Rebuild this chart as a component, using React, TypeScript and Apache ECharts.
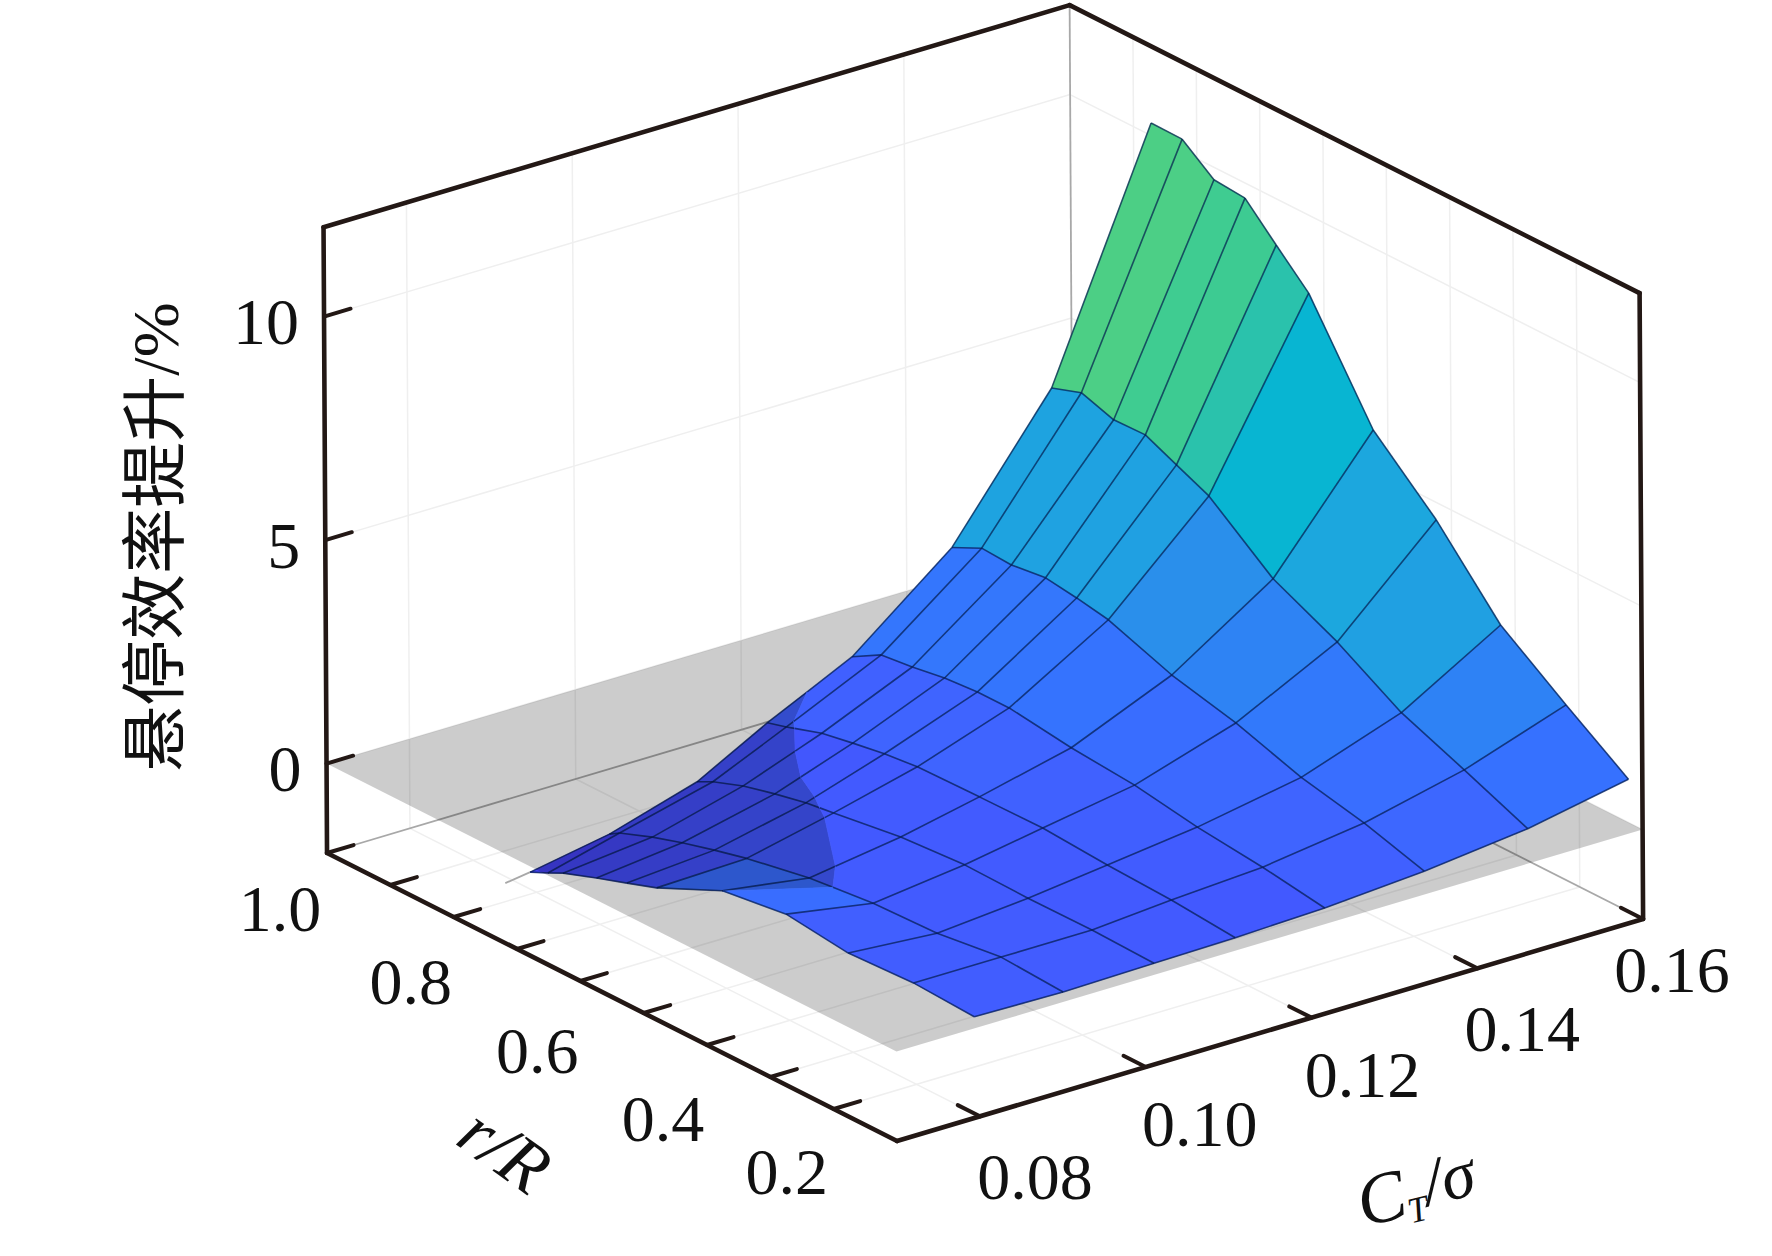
import React, { useEffect, useRef } from "react";
import * as echarts from "echarts";

// ---- tick labels ----
const zTicks = [0, 5, 10];
const rTicks = [0.2, 0.3, 0.4, 0.5, 0.6, 0.7, 0.8, 0.9, 1.0];
const rLabels = [1.0, 0.8, 0.6, 0.4, 0.2];
const ctTicks = [0.08, 0.1, 0.12, 0.14, 0.16];

// ---- surface: one list per CT/sigma row ----
const ctRows = [0.08, 0.0914, 0.1029, 0.1143, 0.1257, 0.1371, 0.1486, 0.16];
const rRows = [
  [0.108, 0.204, 0.307, 0.405, 0.506, 0.61, 0.657, 0.705, 0.758, 0.782, 0.81],
  [0.117, 0.215, 0.316, 0.417, 0.518, 0.617, 0.668, 0.719, 0.766, 0.818, 0.834],
  [0.124, 0.222, 0.323, 0.423, 0.524, 0.63, 0.674, 0.723, 0.773, 0.821, 0.846],
  [0.145, 0.246, 0.347, 0.449, 0.549, 0.647, 0.699, 0.749, 0.798, 0.854, 0.884],
  [0.153, 0.251, 0.354, 0.453, 0.553, 0.651, 0.701, 0.753, 0.804, 0.853, 0.899],
  [0.145, 0.24, 0.339, 0.442, 0.543, 0.643, 0.693, 0.742, 0.796, 0.843, 0.89],
  [0.132, 0.232, 0.331, 0.432, 0.533, 0.634, 0.685, 0.734, 0.784, 0.835, 0.882],
  [0.122, 0.22, 0.323, 0.424, 0.523, 0.624, 0.675, 0.724, 0.773, 0.823, 0.872],
];
const zRows = [
  [0.17, 0.24, 0.17, 0.34, 0.14, -0.54, -0.77, -1.0, -1.27, -1.44, -1.62],
  [0.03, 0.11, -0.08, -0.13, -0.29, -0.56, -0.74, -0.94, -1.15, -1.43, -1.57],
  [-0.01, 0.03, 0.02, 0.05, -0.05, -0.27, -0.36, -0.51, -0.69, -0.94, -1.12],
  [-0.22, -0.1, -0.04, 0.06, 0.04, 0.01, -0.07, -0.19, -0.32, -0.58, -0.7],
  [-0.24, -0.03, 0.13, 0.36, 0.48, 0.67, 0.67, 0.61, 0.49, 0.41, 0.04],
  [0.01, 0.41, 0.72, 1.2, 1.55, 2.07, 2.2, 2.3, 2.2, 2.24, 1.92],
  [0.42, 1.02, 1.59, 2.45, 3.14, 4.27, 4.6, 4.92, 4.9, 5.14, 4.91],
  [0.97, 1.93, 2.98, 4.61, 5.91, 8.25, 8.96, 9.66, 9.72, 10.27, 10.28],
];
// vertices whose depth against the gray plane reads differently from their height
const depthOverrides = [
  [0, 4, -0.31],
  [1, 4, -0.4],
  [2, 6, -0.33],
  [2, 7, -0.4],
  [3, 7, -0.1],
  [3, 8, -0.1],
  [3, 9, -0.36],
  [3, 10, -0.6],
];
const brightCells = [
  [0, 3, 1.5],
  [0, 4, 1.5],
];

// colour scale: value -> rgb
const colorStops: number[][] = [
  [-1.6, 68, 62, 240],
  [0, 66, 90, 255],
  [0.7, 63, 100, 255],
  [2, 54, 114, 255],
  [3, 46, 130, 245],
  [4.3, 42, 143, 235],
  [4.6, 32, 160, 226],
  [6, 28, 168, 222],
  [8.25, 8, 181, 210],
  [9, 44, 195, 170],
  [9.7, 62, 204, 145],
  [10.3, 77, 207, 133],
];

// ---- projection of the box (plot units = page pixels) ----
const CUT = -0.3;
const Z_MIN = -2;
const Z_MAX = 12;
const R_MIN = 0.1;
const R_MAX = 1.0;
const CT_MIN = 0.07;
const CT_MAX = 0.16;
const project = (r: number, ct: number, z: number): number[] => {
  const a = (r - R_MIN) / 0.1;
  const b = (ct - CT_MIN) / 0.01;
  const c = z - Z_MIN;
  return [897 - 63.33 * a + 82.9 * b - 0.25 * c, 1141 - 32 * a - 24.67 * b - 44.7 * c];
};

const depth = zRows.map((row) => row.slice());
depthOverrides.forEach(([i, j, v]) => {
  depth[i][j] = v;
});

type V = { r: number; ct: number; z: number; s: number };
const vert = (i: number, j: number): V => ({ r: rRows[i][j], ct: ctRows[i], z: zRows[i][j], s: depth[i][j] });
const mix = (p: V, q: V, t: number): V => ({
  r: p.r + (q.r - p.r) * t,
  ct: p.ct + (q.ct - p.ct) * t,
  z: p.z + (q.z - p.z) * t,
  s: p.s + (q.s - p.s) * t,
});
const clipPoly = (pts: V[], below: boolean): V[] => {
  const inside = (v: V) => (below ? v.s <= CUT : v.s >= CUT);
  const out: V[] = [];
  pts.forEach((p, k) => {
    const q = pts[(k + 1) % pts.length];
    if (inside(p)) out.push(p);
    if (inside(p) !== inside(q)) out.push(mix(p, q, (CUT - p.s) / (q.s - p.s)));
  });
  return out;
};
const clipSeg = (p: V, q: V, below: boolean): V[] | null => {
  const inP = below ? p.s <= CUT : p.s >= CUT;
  const inQ = below ? q.s <= CUT : q.s >= CUT;
  if (inP && inQ) return [p, q];
  if (!inP && !inQ) return null;
  const m = mix(p, q, (CUT - p.s) / (q.s - p.s));
  return inP ? [p, m] : [m, q];
};

const colorOf = (v: number): string => {
  const s = colorStops;
  if (v <= s[0][0]) return `rgb(${s[0][1]},${s[0][2]},${s[0][3]})`;
  for (let k = 1; k < s.length; k++) {
    if (v <= s[k][0]) {
      const t = (v - s[k - 1][0]) / (s[k][0] - s[k - 1][0]);
      const c = [1, 2, 3].map((n) => Math.round(s[k - 1][n] + (s[k][n] - s[k - 1][n]) * t));
      return `rgb(${c[0]},${c[1]},${c[2]})`;
    }
  }
  const e = s[s.length - 1];
  return `rgb(${e[1]},${e[2]},${e[3]})`;
};

const cells: number[][] = [];
for (let i = ctRows.length - 2; i >= 0; i--) {
  for (let j = rRows[0].length - 2; j >= 0; j--) cells.push([i, j]);
}
const segments: number[][] = [];
for (let i = 0; i < ctRows.length; i++) {
  for (let j = 0; j < rRows[0].length; j++) {
    if (j + 1 < rRows[0].length) segments.push([i, j, i, j + 1]);
    if (i + 1 < ctRows.length) segments.push([i, j, i + 1, j]);
  }
}
const cellValue = (i: number, j: number): number => {
  const o = brightCells.find((b) => b[0] === i && b[1] === j);
  if (o) return o[2];
  return Math.max(zRows[i][j], zRows[i][j + 1], zRows[i + 1][j], zRows[i + 1][j + 1]);
};

const INK = "#231815";
const FAINT = "#efefef";
const BACK = "#a8a8a8";
const SERIF = '"Liberation Serif", "Noto Sans CJK SC"';
const NUM_FONT = `66px ${SERIF}`;

const rLabelOffset = [
  [-47, 55],
  [-43, 64],
  [-43, 69],
  [-44, 73],
  [-47, 62],
];
const ctLabelOffset = [
  [55, 60],
  [54, 57],
  [51, 57],
  [45, 60],
  [29, 51],
];

function surfaceLayer(below: boolean) {
  return {
    type: "custom",
    coordinateSystem: "cartesian2d",
    clip: false,
    silent: true,
    data: cells,
    renderItem: (params: any, api: any) => {
      const [i, j] = cells[params.dataIndex];
      const poly = clipPoly([vert(i, j), vert(i, j + 1), vert(i + 1, j + 1), vert(i + 1, j)], below);
      if (poly.length < 3) return { type: "group", children: [] };
      const color = colorOf(cellValue(i, j));
      return {
        type: "polygon",
        shape: { points: poly.map((v) => api.coord(project(v.r, v.ct, v.z))) },
        style: { fill: color, stroke: color, lineWidth: 0.7 },
      };
    },
  };
}
function meshLayer(below: boolean) {
  return {
    type: "custom",
    coordinateSystem: "cartesian2d",
    clip: false,
    silent: true,
    data: segments,
    renderItem: (params: any, api: any) => {
      const [i1, j1, i2, j2] = segments[params.dataIndex];
      const seg = clipSeg(vert(i1, j1), vert(i2, j2), below);
      if (!seg) return { type: "group", children: [] };
      const a = api.coord(project(seg[0].r, seg[0].ct, seg[0].z));
      const b = api.coord(project(seg[1].r, seg[1].ct, seg[1].z));
      return {
        type: "line",
        shape: { x1: a[0], y1: a[1], x2: b[0], y2: b[1] },
        style: { stroke: "rgba(0,25,75,0.7)", lineWidth: 1.6 },
      };
    },
  };
}

export default function App() {
  const ref = useRef<HTMLDivElement>(null);
  useEffect(() => {
    document.body.style.margin = "0";
    const chart = echarts.init(ref.current!, undefined, { renderer: "svg" });

    const walls = (api: any) => {
      const c = (r: number, ct: number, z: number) => api.coord(project(r, ct, z));
      const line = (p: number[], q: number[], stroke: string, lineWidth: number) => ({
        type: "line",
        shape: { x1: p[0], y1: p[1], x2: q[0], y2: q[1] },
        style: { stroke, lineWidth },
      });
      const out: any[] = [];
      zTicks.forEach((z) => {
        out.push(line(c(R_MAX, CT_MIN, z), c(R_MAX, CT_MAX, z), FAINT, 1.5));
        out.push(line(c(R_MAX, CT_MAX, z), c(R_MIN, CT_MAX, z), FAINT, 1.5));
      });
      ctTicks.slice(0, 4).forEach((ct) => {
        out.push(line(c(R_MAX, ct, Z_MIN), c(R_MAX, ct, Z_MAX), FAINT, 1.5));
        out.push(line(c(R_MIN, ct, Z_MIN), c(R_MAX, ct, Z_MIN), FAINT, 1.5));
      });
      rTicks.slice(0, 8).forEach((r) => {
        out.push(line(c(r, CT_MAX, Z_MIN), c(r, CT_MAX, Z_MAX), FAINT, 1.5));
        out.push(line(c(r, CT_MIN, Z_MIN), c(r, CT_MAX, Z_MIN), FAINT, 1.5));
      });
      out.push(line(c(R_MAX, CT_MAX, Z_MIN), c(R_MAX, CT_MAX, Z_MAX), BACK, 1.8));
      out.push(line(c(R_MAX, CT_MIN, Z_MIN), c(R_MAX, CT_MAX, Z_MIN), BACK, 1.8));
      out.push(line(c(R_MIN, CT_MAX, Z_MIN), c(R_MAX, CT_MAX, Z_MIN), BACK, 1.8));
      out.push(line(c(0.81, 0.08, -1.62), c(0.81, 0.077, -1.7), BACK, 1.8));
      return out;
    };

    const frame = (api: any) => {
      const c = (r: number, ct: number, z: number) => api.coord(project(r, ct, z));
      const line = (p: number[], q: number[], lineWidth: number) => ({
        type: "line",
        shape: { x1: p[0], y1: p[1], x2: q[0], y2: q[1] },
        style: { stroke: INK, lineWidth, lineCap: "round" },
      });
      const text = (p: number[], s: string, font: string, align = "center", rotation = 0) => ({
        type: "text",
        x: p[0],
        y: p[1],
        rotation,
        style: { text: s, font, fill: "#111", align, verticalAlign: "middle" },
      });
      const out: any[] = [];
      // box
      out.push(line(c(R_MAX, CT_MIN, Z_MIN), c(R_MAX, CT_MIN, Z_MAX), 4.6));
      out.push(line(c(R_MAX, CT_MIN, Z_MAX), c(R_MAX, CT_MAX, Z_MAX), 4.6));
      out.push(line(c(R_MAX, CT_MAX, Z_MAX), c(R_MIN, CT_MAX, Z_MAX), 4.6));
      out.push(line(c(R_MIN, CT_MAX, Z_MAX), c(R_MIN, CT_MAX, Z_MIN), 4.6));
      out.push(line(c(R_MIN, CT_MAX, Z_MIN), c(R_MIN, CT_MIN, Z_MIN), 4.6));
      out.push(line(c(R_MIN, CT_MIN, Z_MIN), c(R_MAX, CT_MIN, Z_MIN), 4.6));
      // ticks
      zTicks.forEach((z) => {
        out.push(line(c(R_MAX, CT_MIN, z), c(R_MAX, CT_MIN + 0.0032, z), 4));
        const p = c(R_MAX, CT_MIN, z);
        out.push(text([p[0] - 25, p[1] + 5], String(z), NUM_FONT, "right"));
      });
      rTicks.forEach((r) => out.push(line(c(r, CT_MIN, Z_MIN), c(r, CT_MIN + 0.0032, Z_MIN), 4)));
      ctTicks.forEach((ct) => out.push(line(c(R_MIN, ct, Z_MIN), c(R_MIN + 0.035, ct, Z_MIN), 4)));
      rLabels.forEach((r, k) => {
        const p = c(r, CT_MIN, Z_MIN);
        out.push(text([p[0] + rLabelOffset[k][0], p[1] + rLabelOffset[k][1]], r.toFixed(1), NUM_FONT));
      });
      ctTicks.forEach((ct, k) => {
        const p = c(R_MIN, ct, Z_MIN);
        out.push(text([p[0] + ctLabelOffset[k][0], p[1] + ctLabelOffset[k][1]], ct.toFixed(2), NUM_FONT));
      });
      // axis titles
      out.push(text(api.coord([155, 537]), "悬停效率提升/%", `66px ${SERIF}`, "center", Math.PI / 2));
      out.push(text(api.coord([505, 1150]), "r/R", `italic 72px ${SERIF}`, "center", -0.62));
      const ctTitle = api.coord([1381, 1198]);
      out.push({
        type: "group",
        x: ctTitle[0],
        y: ctTitle[1],
        rotation: 0.24,
        children: [
          { type: "text", x: 0, y: 0, style: { text: "C", font: `italic 72px ${SERIF}`, fill: "#111", align: "center", verticalAlign: "middle" } },
          { type: "text", x: 33, y: 20, style: { text: "T", font: `italic 36px ${SERIF}`, fill: "#111", align: "center", verticalAlign: "middle" } },
          { type: "text", x: 44, y: -4, style: { text: "/σ", font: `italic 68px ${SERIF}`, fill: "#111", align: "left", verticalAlign: "middle" } },
        ],
      });
      return out;
    };

    const once = (build: (api: any) => any[]) => ({
      type: "custom",
      coordinateSystem: "cartesian2d",
      clip: false,
      silent: true,
      data: [[0, 0]],
      renderItem: (_p: any, api: any) => ({ type: "group", children: build(api) }),
    });

    const plane = (api: any) => [
      {
        type: "polygon",
        shape: {
          points: [
            api.coord(project(R_MAX, CT_MIN, 0)),
            api.coord(project(R_MAX, CT_MAX, 0)),
            api.coord(project(R_MIN, CT_MAX, 0)),
            api.coord(project(R_MIN, CT_MIN, 0)),
          ],
        },
        style: { fill: "rgba(0,0,0,0.2)" },
      },
    ];

    chart.setOption({
      animation: false,
      backgroundColor: "#fff",
      grid: { left: 0, top: 0, right: 0, bottom: 0 },
      xAxis: { type: "value", min: 0, max: 1772, show: false },
      yAxis: { type: "value", min: 0, max: 1256, inverse: true, show: false },
      series: [
        once(walls),
        surfaceLayer(true),
        meshLayer(true),
        once(plane),
        surfaceLayer(false),
        meshLayer(false),
        once(frame),
      ],
    });
    return () => chart.dispose();
  }, []);
  return <div ref={ref} style={{ position: "fixed", left: 0, top: 0, width: 1772, height: 1256 }} />;
}
